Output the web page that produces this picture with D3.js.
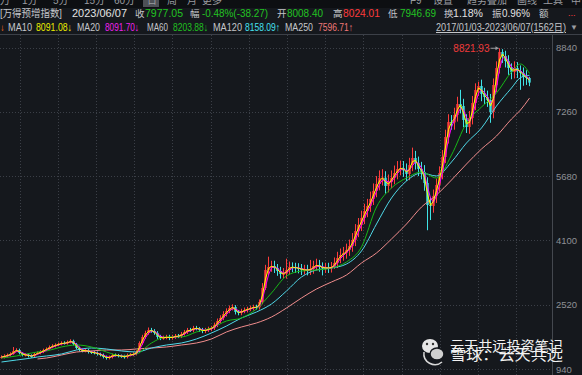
<!DOCTYPE html>
<meta charset="utf-8">
<style>
    body { margin: 0; background: #15181d; }
    svg { display: block; font-family: "Liberation Sans", "Noto Sans CJK SC", sans-serif; }
    .grid line { stroke: #3b3f47; stroke-width: 1; stroke-dasharray: 1,2; }
    .axis text { fill: #8e9096; font-size: 9.5px; }
    .ma { fill: none; stroke-width: 1px; }
</style>
<body>
<script src="https://cdn.jsdelivr.net/npm/d3@7"></script>
<script>

    var width = 582,
            height = 375;

    // sampled candles, one every ~9 trading days (2017/01/03 - 2023/06/07)
    var closes = [
        1235,1260,1284,1309,1383,1407,1333,1284,1290,1260,
        1255,1309,1333,1358,1407,1432,1481,1506,1530,1555,
        1579,1570,1604,1629,1555,1456,1407,1383,1400,1358,
        1350,1333,1309,1284,1235,1210,1235,1284,1278,1260,
        1252,1235,1284,1290,1309,1358,1579,1727,1825,1899,
        1874,1825,1727,1702,1710,1727,1702,1727,1752,1745,
        1800,1850,1899,1890,1948,1940,1899,1874,1899,1924,
        1948,2022,2120,2194,2292,2366,2439,2464,2341,2316,
        2366,2390,2415,2439,2464,2455,2587,2931,3373,3447,
        3471,3422,3348,3275,3280,3373,3447,3440,3422,3415,
        3373,3380,3365,3398,3471,3496,3447,3422,3430,3418,
        3447,3545,3668,3742,3791,3864,3963,4110,4331,4479,
        4651,4823,4946,5118,5315,5486,5633,5640,5437,5535,
        5633,5756,5855,5879,5830,5732,5953,6125,6002,5855,
        5781,5511,4970,4946,5192,5462,5756,6149,6641,7010,
        7000,7182,7452,7403,7059,6887,7108,7476,7796,7894,
        7697,7624,7550,7255,7919,8336,8729,8631,8508,8336,
        8238,8336,8263,8213,8115,8091,7977.05
    ];
    var highs = [
        1275,1300,1320,1350,1480,1450,1440,1350,1330,1320,
        1300,1340,1370,1400,1440,1470,1520,1550,1570,1590,
        1620,1620,1640,1670,1660,1580,1490,1440,1440,1430,
        1390,1380,1370,1340,1320,1270,1270,1320,1320,1310,
        1295,1290,1320,1330,1350,1400,1620,1780,1880,1960,
        1950,1920,1870,1780,1760,1780,1780,1780,1800,1800,
        1850,1900,1950,1950,2000,2000,1970,1950,1950,1980,
        2000,2080,2180,2260,2360,2430,2500,2530,2510,2390,
        2420,2450,2470,2500,2520,2520,2650,3050,3500,3700,
        3600,3600,3520,3450,3420,3650,3580,3560,3550,3540,
        3520,3500,3500,3620,3600,3650,3620,3560,3550,3550,
        3570,3680,3820,3900,3940,4020,4120,4280,4500,4650,
        4830,5000,5120,5300,5500,5680,5820,5850,5800,5720,
        5820,5940,6050,6060,6050,5990,6130,6380,6300,6160,
        6030,5950,5650,5150,5350,5620,5920,6320,6820,7200,
        7180,7360,7630,7800,7580,7200,7280,7650,7960,8000,
        8050,7850,7780,7700,8080,8500,8821.93,8800,8760,8650,
        8450,8500,8480,8400,8350,8280,8120
    ];
    var lows = [
        1195,1200,1225,1250,1290,1360,1300,1250,1250,1225,
        1215,1225,1290,1300,1330,1380,1410,1450,1470,1500,
        1520,1540,1540,1570,1520,1420,1370,1350,1350,1320,
        1310,1300,1270,1250,1200,1170,1175,1200,1245,1225,
        1215,1195,1200,1250,1255,1275,1330,1530,1680,1780,
        1830,1780,1680,1650,1660,1670,1650,1660,1680,1700,
        1700,1760,1800,1850,1840,1890,1850,1820,1820,1850,
        1870,1900,1970,2060,2140,2230,2310,2380,2280,2260,
        2260,2310,2330,2360,2380,2400,2400,2530,2880,3250,
        3330,3300,3230,3160,3150,3160,3260,3320,3300,3290,
        3250,3260,3240,3250,3280,3360,3330,3240,3300,3300,
        3310,3400,3420,3540,3600,3650,3720,3820,3960,4180,
        4330,4500,4670,4800,4970,5160,5330,5450,5250,5280,
        5380,5480,5600,5700,5660,5560,5580,5800,5840,5680,
        5600,5320,4350,4600,4780,5020,5300,5600,6000,6480,
        6820,6820,7020,7220,6880,6740,6720,6950,7300,7650,
        7520,7450,7380,6990,7100,7750,8200,8460,8350,8170,
        8060,8080,8090,7800,7900,7920,7890
    ];

    // long moving averages at these candle indexes
    var maIdx = [0,5,10,12,15,20,25,30,35,40,45,50,55,60,65,70,75,80,85,90,
        95,100,105,110,115,120,125,130,135,140,145,150,155,160,165,170,173,176];
    var ma60 = [1210,1260,1333,1358,1383,1481,1530,1481,1358,1260,1309,1579,1727,1727,1850,1948,2120,2194,2415,2808,
        3226,3348,3373,3422,3570,3938,4921,5388,5633,5781,5633,6198,6985,7378,7722,8238,8434,8203.88];
    var ma120 = [1112,1161,1210,1235,1260,1309,1407,1456,1432,1383,1358,1456,1530,1579,1678,1825,1997,2194,2341,2538,
        2857,3201,3373,3422,3520,3840,4503,5142,5560,5756,5683,6027,6494,6862,7402,7845,8100,8158.09];
    var ma250 = [null,null,null,1186,1210,1284,1358,1383,1407,1407,1432,1456,1481,1530,1579,1678,1850,1973,2071,2218,
        2439,2685,2906,3078,3250,3545,3791,4135,4503,4921,5216,5584,5977,6346,6665,7083,7304,7596.71];

    var yTicks = [940, 2520, 4100, 5680, 7260, 8840];
    var peakValue = 8821.93;

    var green = "#22c322", red = "#ff3b3b", label = "#c4c6ca";

    var svg = d3.select("body").append("svg")
            .attr("width", width)
            .attr("height", height);

    // ---- top strip (tabs, cut off) ----
    svg.append("rect").attr("width", width).attr("height", 8).attr("fill", "#0d0f12");
    svg.append("rect").attr("x", 143).attr("width", 16).attr("height", 7).attr("fill", "#4d5056");
    var tabs = [["万",0],["1分",22],["5分",53],["15分",84],["60分",114],["日",147],["周",167],["月",187],["更多",202],
        ["F9",410],["设置",433],["趋势叠加",467],["画线",517],["工具",543],["中",571]];
    svg.selectAll("text.tab")
            .data(tabs)
            .enter().append("text")
            .attr("class", "tab")
            .attr("x", function(d) { return d[1]; })
            .attr("y", 4)
            .attr("fill", "#9a9ca0")
            .style("font-size", "10px")
            .text(function(d) { return d[0]; });

    // ---- quote row ----
    var row1 = [
        ["[万得预增指数]", 0, label, 62],
        ["2023/06/07", 72, "#e2e2e2", 55],
        ["收", 135, label], ["7977.05", 145, green, 38],
        ["幅", 190, label], ["-0.48%(-38.27)", 202, green, 66],
        ["开", 277, label], ["8008.40", 287, green, 36],
        ["高", 333, label], ["8024.01", 343, red, 37],
        ["低", 388, label], ["7946.69", 400, green, 36],
        ["换", 444, label], ["1.18%", 453, "#e2e2e2", 30],
        ["振", 492, label], ["0.96%", 502, "#e2e2e2", 28],
        ["额", 539, label]
    ];
    var row2 = [
        ["↓", 0, "#ff6a1a"],
        ["MA10", 8, label, 24], ["8091.08↓", 36, "#ecec00", 36],
        ["MA20", 77, label, 23], ["8091.70↓", 105, "#ee22ee", 34],
        ["MA60", 147, label, 21], ["8203.88↓", 173, "#20c020", 35],
        ["MA120", 213, label, 29], ["8158.09↑", 245, "#45e0f0", 35],
        ["MA250", 285, label, 28], ["7596.71↑", 318, "#f07878", 35]
    ];

    function textRow(rows, y, cls) {
        svg.selectAll("text." + cls)
                .data(rows)
                .enter().append("text")
                .attr("class", cls)
                .attr("x", function(d) { return d[1]; })
                .attr("y", y)
                .attr("fill", function(d) { return d[2]; })
                .attr("textLength", function(d) { return d[3] || null; })
                .attr("lengthAdjust", "spacingAndGlyphs")
                .style("font-size", function(d) { return d[3] ? "10.5px" : "9.5px"; })
                .text(function(d) { return d[0]; });
    }
    textRow(row1, 17, "r1");
    textRow(row2, 31, "r2");

    svg.append("text").attr("x", 568).attr("y", 16).attr("fill", red)
            .style("font-size", "9px").text("...");
    svg.append("text").attr("x", 436).attr("y", 31).attr("fill", label)
            .attr("textLength", 130).attr("lengthAdjust", "spacingAndGlyphs")
            .style("font-size", "10px").style("text-decoration", "underline")
            .text("2017/01/03-2023/06/07(1562日)");
    svg.append("text").attr("x", 570).attr("y", 30).attr("fill", "#9a9ca0")
            .style("font-size", "8px").text("▼");

    svg.append("line").attr("x1", 0).attr("x2", width).attr("y1", 34.5).attr("y2", 34.5)
            .attr("stroke", "#3c4048");

    // ---- scales ----
    var plotRight = 552;
    var x = d3.scaleLinear().domain([0, closes.length - 1]).range([1.5, 529.5]);
    var y = d3.scaleLinear().domain([940, 8840]).range([369, 47.5]);

    svg.append("clipPath").attr("id", "plot")
            .append("rect").attr("x", 0).attr("y", 35).attr("width", plotRight).attr("height", height - 35);

    // grid
    var grid = svg.append("g").attr("class", "grid");
    grid.selectAll("line.h")
            .data(yTicks)
            .enter().append("line")
            .attr("x1", 0).attr("x2", plotRight)
            .attr("y1", function(d) { return Math.round(y(d)) + .5; })
            .attr("y2", function(d) { return Math.round(y(d)) + .5; });
    grid.selectAll("line.v")
            .data(d3.range(14))
            .enter().append("line")
            .attr("x1", function(k) { return Math.round(19.5 + 38.2 * k) + .5; })
            .attr("x2", function(k) { return Math.round(19.5 + 38.2 * k) + .5; })
            .attr("y1", 35).attr("y2", height);

    // right axis
    svg.append("line").attr("x1", plotRight + .5).attr("x2", plotRight + .5).attr("y1", 35).attr("y2", height)
            .attr("stroke", "#44484f");
    var axis = svg.append("g")
            .attr("class", "axis")
            .attr("transform", "translate(" + plotRight + ",0)")
            .call(d3.axisRight(y).tickValues(yTicks).tickFormat(d3.format("d")).tickSize(0).tickPadding(4));
    axis.select(".domain").remove();

    var plot = svg.append("g").attr("clip-path", "url(#plot)");

    // candles
    var bars = closes.map(function(c, i) {
        return {i: i, o: i ? closes[i - 1] : c, c: c, h: highs[i], l: lows[i]};
    });
    var candle = plot.selectAll("g.candle")
            .data(bars)
            .enter().append("g")
            .attr("class", "candle");
    candle.append("line")
            .attr("x1", function(d) { return x(d.i); })
            .attr("x2", function(d) { return x(d.i); })
            .attr("y1", function(d) { return y(d.h); })
            .attr("y2", function(d) { return y(d.l); })
            .attr("stroke", function(d) { return d.c >= d.o ? "#ff3c3c" : "#3fe3e6"; });
    candle.append("rect")
            .attr("x", function(d) { return x(d.i) - 1.2; })
            .attr("width", 2.4)
            .attr("y", function(d) { return y(Math.max(d.o, d.c)); })
            .attr("height", function(d) { return Math.max(1, Math.abs(y(d.o) - y(d.c))); })
            .attr("fill", function(d) { return d.c >= d.o ? "#ff3c3c" : "#3fe3e6"; });

    // moving averages
    function rolling(n) {
        return closes.map(function(c, i) {
            return d3.mean(closes.slice(Math.max(0, i - n + 1), i + 1));
        });
    }

    var sparse = d3.line()
            .defined(function(d) { return d[1] != null; })
            .x(function(d) { return x(d[0]); })
            .y(function(d) { return y(d[1]); })
            .curve(d3.curveMonotoneX);
    var dense = d3.line()
            .x(function(d, i) { return x(i); })
            .y(function(d) { return y(d); });

    [[ma250, "#f08c8c"], [ma120, "#4fd8e8"], [ma60, "#17b817"]].forEach(function(m) {
        plot.append("path")
                .attr("class", "ma")
                .attr("stroke", m[1])
                .attr("d", sparse(maIdx.map(function(idx, k) { return [idx, m[0][k]]; })));
    });
    plot.append("path").attr("class", "ma").attr("stroke", "#ff00ff").attr("d", dense(rolling(3)));
    plot.append("path").attr("class", "ma").attr("stroke", "#ffff00").attr("d", dense(rolling(2)));

    // peak marker
    var peakI = highs.indexOf(peakValue);
    svg.append("line")
            .attr("x1", x(peakI) - 9).attr("x2", x(peakI) - 1)
            .attr("y1", y(peakValue)).attr("y2", y(peakValue))
            .attr("stroke", "#9a9ca0");
    svg.append("path")
            .attr("d", "M" + (x(peakI) - 1) + "," + y(peakValue) + "l-3,-2v4z")
            .attr("fill", "#9a9ca0");
    svg.append("text")
            .attr("x", x(peakI) - 10).attr("y", y(peakValue) + 3.5)
            .attr("text-anchor", "end")
            .attr("fill", "#ee3a3a")
            .style("font-size", "10px")
            .text(d3.format(".2f")(peakValue));

    // watermark
    var wm = svg.append("g");
    wm.append("ellipse").attr("cx", 430).attr("cy", 346).attr("rx", 8).attr("ry", 7).attr("fill", "#e6e6e6");
    wm.append("circle").attr("cx", 427).attr("cy", 344).attr("r", 1.2).attr("fill", "#333");
    wm.append("circle").attr("cx", 433).attr("cy", 344).attr("r", 1.2).attr("fill", "#333");
    wm.append("ellipse").attr("cx", 437).attr("cy", 354).attr("rx", 7).attr("ry", 6)
            .attr("fill", "#cfcfcf").attr("stroke", "#15181d").attr("stroke-width", 1.5);
    wm.append("path").attr("d", "M424,352 A11,11 0 0 0 442,362").attr("fill", "none")
            .attr("stroke", "#d8d8d8").attr("stroke-width", 1.5);
    wm.append("text").attr("x", 450).attr("y", 351).attr("fill", "#f2f2f2")
            .attr("textLength", 113).attr("lengthAdjust", "spacingAndGlyphs")
            .style("font-family", "Noto Sans CJK SC").style("font-size", "13.5px")
            .text("云天共远投资笔记");
    wm.append("text").attr("x", 450).attr("y", 360).attr("fill", "#f2f2f2")
            .attr("textLength", 113).attr("lengthAdjust", "spacingAndGlyphs")
            .style("font-family", "Noto Sans CJK SC").style("font-size", "15px")
            .text("雪球：云天共远");

</script>
</body>
</html>
